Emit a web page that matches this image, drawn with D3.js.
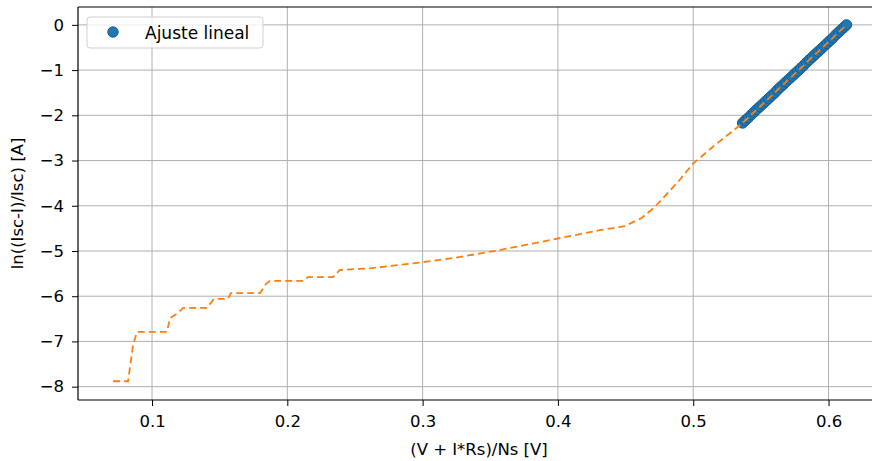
<!DOCTYPE html>
<html>
<head>
<meta charset="utf-8">
<script src="https://cdn.jsdelivr.net/npm/d3@7"></script>
<style>
  html, body { margin: 0; padding: 0; background: #fff; }
  svg { display: block; font-family: "DejaVu Sans", sans-serif; }
</style>
</head>
<body>
<svg id="chart" width="872" height="461"></svg>
<script>
// Measured curve: ln((Isc-I)/Isc) against (V + I*Rs)/Ns
const curveV = [0.0712, 0.0823, 0.0860, 0.0889, 0.1110, 0.1134, 0.1192, 0.1230, 0.1406, 0.1458,
  0.1560, 0.1583, 0.1798, 0.1842, 0.1872, 0.2115, 0.2152, 0.2337, 0.2388, 0.2625,
  0.2942, 0.3238, 0.3570, 0.3939, 0.4309, 0.4493, 0.4619, 0.4715, 0.4811, 0.4900,
  0.4995, 0.5143, 0.5320, 0.5365];
const curveY = [-7.88, -7.88, -7.08, -6.79, -6.79, -6.48, -6.37, -6.26, -6.26, -6.06,
  -6.06, -5.93, -5.93, -5.73, -5.66, -5.66, -5.58, -5.58, -5.42, -5.38,
  -5.27, -5.15, -4.98, -4.76, -4.54, -4.45, -4.27, -4.03, -3.72, -3.43,
  -3.08, -2.70, -2.28, -2.17];

// Points used for the linear fit (high-voltage region)
const fitV = [0.5365, 0.5385, 0.5405, 0.5428, 0.5449, 0.5470, 0.5492, 0.5514, 0.5535, 0.5557,
  0.5578, 0.5600, 0.5622, 0.5643, 0.5665, 0.5686, 0.5708, 0.5730, 0.5751, 0.5773,
  0.5794, 0.5816, 0.5838, 0.5859, 0.5881, 0.5902, 0.5924, 0.5946, 0.5967, 0.5989,
  0.6010, 0.6032, 0.6054, 0.6075, 0.6097, 0.6115, 0.6133];
const fitY = [-2.17, -2.11, -2.06, -1.99, -1.93, -1.87, -1.81, -1.75, -1.69, -1.63,
  -1.57, -1.51, -1.44, -1.38, -1.32, -1.26, -1.20, -1.14, -1.08, -1.02,
  -0.96, -0.90, -0.83, -0.77, -0.71, -0.65, -0.59, -0.53, -0.47, -0.41,
  -0.35, -0.29, -0.22, -0.16, -0.10, -0.05, 0.00];

const xTicks = [0.1, 0.2, 0.3, 0.4, 0.5, 0.6];
const yTicks = [0, -1, -2, -3, -4, -5, -6, -7, -8];

const xLabel = "(V + I*Rs)/Ns [V]";
const yLabel = "ln((Isc-I)/Isc) [A]";
const legendLabel = "Ajuste lineal";

(function () {
  const svg = d3.select("#chart");
  const pl = 78, pr = 884, pt = 7, pb = 400;
  const fontSize = 16.5;

  const x = d3.scaleLinear().domain([0.0453, 0.641]).range([pl, pr]);
  const y = d3.scaleLinear().domain([-8.295, 0.395]).range([pb, pt]);

  // Grid
  const grid = svg.append("g");
  grid.selectAll("line.gx").data(xTicks).join("line").attr("class", "gx")
    .attr("x1", d => x(d)).attr("x2", d => x(d))
    .attr("y1", pt).attr("y2", pb)
    .attr("stroke", "#b0b0b0").attr("stroke-width", 1);
  grid.selectAll("line.gy").data(yTicks).join("line").attr("class", "gy")
    .attr("y1", d => y(d)).attr("y2", d => y(d))
    .attr("x1", pl).attr("x2", pr)
    .attr("stroke", "#b0b0b0").attr("stroke-width", 1);

  // Fit points
  svg.append("g").selectAll("circle").data(fitV.map((v, i) => [v, fitY[i]])).join("circle")
    .attr("cx", d => x(d[0])).attr("cy", d => y(d[1])).attr("r", 5.2)
    .attr("fill", "#1f77b4").attr("stroke", "#1a5d8c").attr("stroke-width", 1);

  // Dashed curve over the whole range
  const all = curveV.map((v, i) => [v, curveY[i]])
    .concat(fitV.slice(1).map((v, i) => [v, fitY[i + 1]]));
  svg.append("path").datum(all)
    .attr("d", d3.line().x(d => x(d[0])).y(d => y(d[1])))
    .attr("fill", "none").attr("stroke", "#ff7f0e").attr("stroke-width", 1.8)
    .attr("stroke-dasharray", "7,4");

  // Axes
  const fmtY = d => d < 0 ? "\u2212" + Math.abs(d) : String(d);
  const xAxis = svg.append("g").attr("transform", `translate(0,${pb})`)
    .call(d3.axisBottom(x).tickValues(xTicks).tickFormat(d3.format(".1f")).tickSize(6).tickPadding(9).tickSizeOuter(0));
  const yAxis = svg.append("g").attr("transform", `translate(${pl},0)`)
    .call(d3.axisLeft(y).tickValues(yTicks).tickFormat(fmtY).tickSize(6).tickPadding(8).tickSizeOuter(0));
  [xAxis, yAxis].forEach(g => {
    g.select(".domain").remove();
    g.selectAll("text").attr("font-size", fontSize).attr("fill", "#000")
      .attr("font-family", "DejaVu Sans");
    g.selectAll("line").attr("stroke", "#000").attr("stroke-width", 1);
  });

  // Spines
  svg.append("line").attr("x1", pl).attr("x2", pl).attr("y1", pt).attr("y2", pb)
    .attr("stroke", "#000").attr("stroke-width", 1.2);
  svg.append("line").attr("x1", pl).attr("x2", pr).attr("y1", pb).attr("y2", pb)
    .attr("stroke", "#000").attr("stroke-width", 1.2);
  svg.append("line").attr("x1", pl).attr("x2", pr).attr("y1", pt).attr("y2", pt)
    .attr("stroke", "#000").attr("stroke-width", 1.2);

  // Axis titles
  svg.append("text").attr("x", (pl + pr) / 2 - 2).attr("y", 455)
    .attr("text-anchor", "middle").attr("font-size", fontSize).text(xLabel);
  svg.append("text").attr("transform", `translate(23,${(pt + pb) / 2}) rotate(-90)`)
    .attr("text-anchor", "middle").attr("font-size", fontSize).text(yLabel);

  // Legend
  const lg = svg.append("g");
  lg.append("rect").attr("x", 87).attr("y", 17).attr("width", 176).attr("height", 31).attr("rx", 3)
    .attr("fill", "#fff").attr("fill-opacity", 0.8).attr("stroke", "#d0d0d0");
  lg.append("circle").attr("cx", 113).attr("cy", 32).attr("r", 5.2)
    .attr("fill", "#1f77b4").attr("stroke", "#1a5d8c");
  lg.append("text").attr("x", 145).attr("y", 38.5).attr("font-size", 17).text(legendLabel);
})();
</script>
</body>
</html>
